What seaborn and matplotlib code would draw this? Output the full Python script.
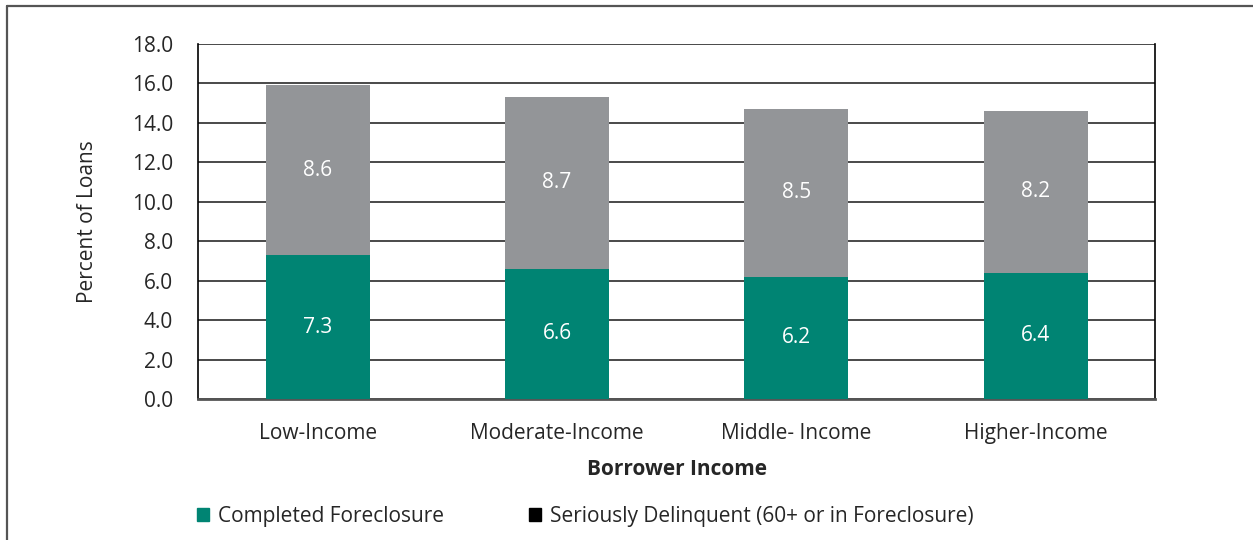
import pandas as pd
import seaborn as sns
import matplotlib.pyplot as plt
from matplotlib.patches import Patch
from matplotlib.lines import Line2D

# chart values
categories = ['Low-Income', 'Moderate-Income', 'Middle- Income', 'Higher-Income']
completed_foreclosure = [7.3, 6.6, 6.2, 6.4]
seriously_delinquent = [8.6, 8.7, 8.5, 8.2]
y_ticks = [0, 2, 4, 6, 8, 10, 12, 14, 16, 18]

TEAL = '#008473'
GRAY = '#939598'
FS = 15


def build_frame():
    df = pd.DataFrame({
        'income': categories,
        'completed': completed_foreclosure,
        'delinquent': seriously_delinquent,
    })
    df['total'] = df['completed'] + df['delinquent']
    return df


def draw_chart(df):
    sns.set_style('white')
    plt.rcParams['font.family'] = ['Open Sans', 'DejaVu Sans']

    fig = plt.figure(figsize=(12.53, 5.4), dpi=100)
    ax = fig.add_axes([0.158, 0.261, 0.764, 0.658])

    # stacked bars: totals in gray, foreclosures in teal on top
    sns.barplot(data=df, x='income', y='total', color=GRAY, width=0.435,
                saturation=1, linewidth=0, ax=ax, zorder=3)
    sns.barplot(data=df, x='income', y='completed', color=TEAL, width=0.435,
                saturation=1, linewidth=0, ax=ax, zorder=4)

    # segment labels
    for i, row in df.iterrows():
        ax.text(i, row['completed'] / 2, f"{row['completed']:.1f}", ha='center',
                va='center', color='white', fontsize=FS, zorder=5)
        ax.text(i, row['completed'] + row['delinquent'] / 2, f"{row['delinquent']:.1f}",
                ha='center', va='center', color='white', fontsize=FS, zorder=5)

    ax.set_ylim(0, 18)
    ax.set_xlim(-0.5, len(categories) - 0.5)
    ax.set_yticks(y_ticks)
    ax.set_yticklabels([f'{v:.1f}' for v in y_ticks], fontsize=FS)
    ax.yaxis.grid(True, color='#3a3a3a', linewidth=1.3, zorder=0)
    ax.set_axisbelow(True)

    # category boundary ticks below the axis
    ax.set_xticks(range(len(categories)))
    ax.set_xticklabels(categories, fontsize=FS)
    ax.set_xticks([i - 0.5 for i in range(len(categories) + 1)], minor=True)
    ax.tick_params(axis='x', which='major', length=0, pad=17)
    ax.tick_params(axis='x', which='minor', length=11, width=1.2, color='black', direction='out')
    ax.tick_params(axis='y', length=12, width=1.2, color='black', direction='out', pad=6)

    for side in ['left', 'right']:
        ax.spines[side].set_visible(True)
        ax.spines[side].set_color('black')
        ax.spines[side].set_linewidth(1.2)
    ax.spines['top'].set_visible(False)
    ax.spines['bottom'].set_color('#555555')
    ax.spines['bottom'].set_linewidth(2)

    ax.set_ylabel('Percent of Loans', fontsize=FS, labelpad=24)
    ax.set_xlabel('Borrower Income', fontsize=FS, fontweight='bold', labelpad=11)

    handles = [Patch(color=TEAL, label='Completed Foreclosure'),
               Patch(color='black', label='Seriously Delinquent (60+ or in Foreclosure)')]
    fig.legend(handles=handles, loc='center left', bbox_to_anchor=(0.142, 0.044), ncol=2,
               frameon=False, fontsize=FS, handlelength=0.6, handleheight=0.6,
               handletextpad=0.4, columnspacing=4.1)

    # outer frame (top and left edges)
    fig.add_artist(Line2D([7 / 1253, 1], [1 - 6 / 540, 1 - 6 / 540], color='#555555',
                          linewidth=1.6, transform=fig.transFigure))
    fig.add_artist(Line2D([7 / 1253, 7 / 1253], [0, 1 - 6 / 540], color='#555555',
                          linewidth=1.6, transform=fig.transFigure))

    fig.savefig('out.png', dpi=100)


def main():
    df = build_frame()
    draw_chart(df)


if __name__ == "__main__":
    main()
